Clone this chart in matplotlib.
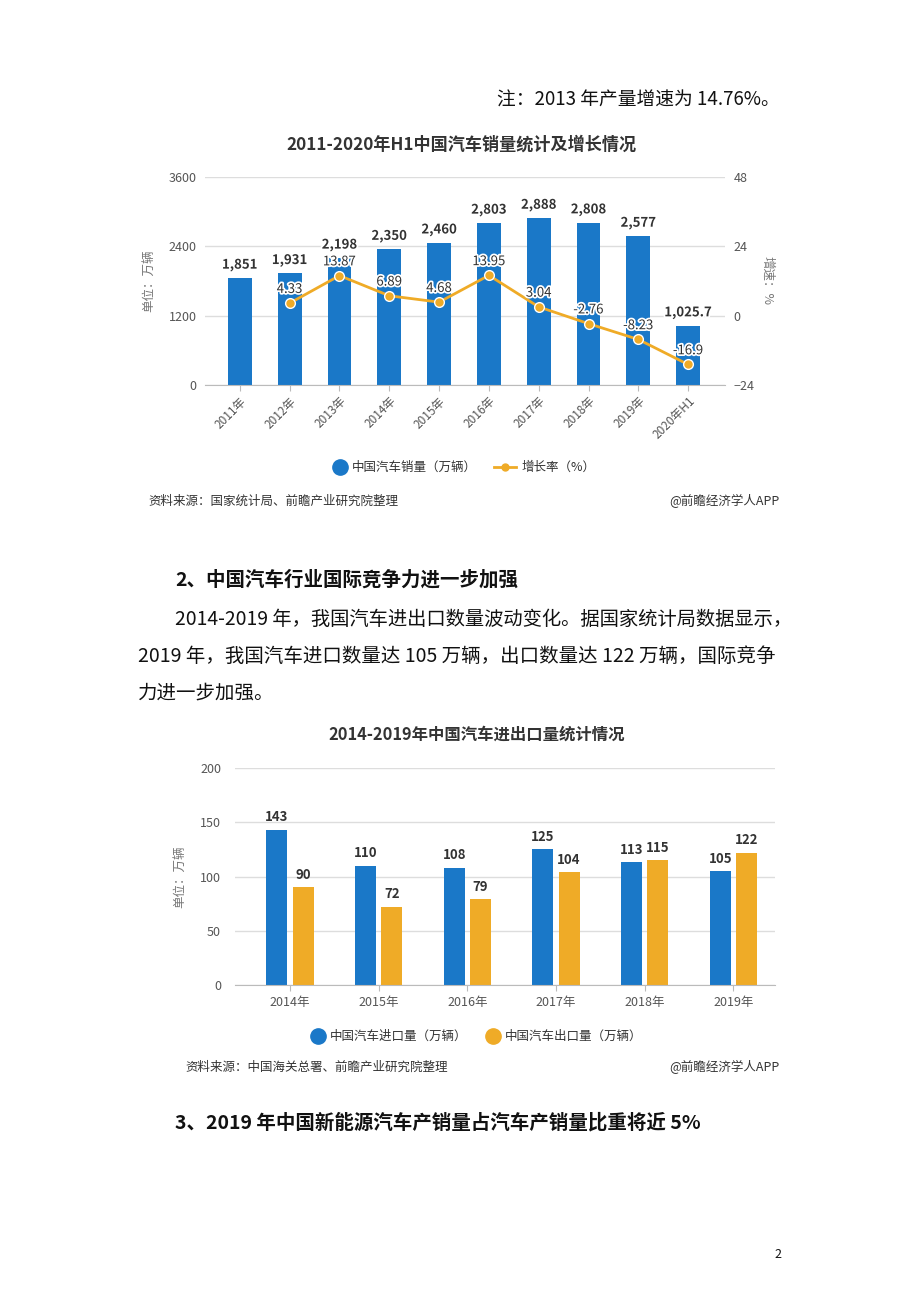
import matplotlib.pyplot as plt
import matplotlib.patheffects as pe
import numpy as np

plt.rcParams['font.family'] = ['Noto Sans CJK SC', 'DejaVu Sans']

# 图1数据
years1 = ["2011年", "2012年", "2013年", "2014年", "2015年", "2016年",
          "2017年", "2018年", "2019年", "2020年H1"]
sales = [1851, 1931, 2198, 2350, 2460, 2803, 2888, 2808, 2577, 1025.7]
sales_labels = ["1,851", "1,931", "2,198", "2,350", "2,460", "2,803",
                "2,888", "2,808", "2,577", "1,025.7"]
growth = [None, 4.33, 13.87, 6.89, 4.68, 13.95, 3.04, -2.76, -8.23, -16.9]

# 图2数据
years2 = ["2014年", "2015年", "2016年", "2017年", "2018年", "2019年"]
imports = [143, 110, 108, 125, 113, 105]
exports = [90, 72, 79, 104, 115, 122]

BLUE = "#1a78c8"
ORANGE = "#efab27"
TICK = "#555555"
GRID = "#dddddd"
LABEL = "#333333"

fig = plt.figure(figsize=(9.2, 13.02), dpi=100)


def fx(px):
    return px / 920


def fy(py):
    return 1 - py / 1302


def dot(x, y, color, size=11):
    fig.lines.append(plt.Line2D([fx(x)], [fy(y)], transform=fig.transFigure, marker="o",
                                markersize=size, color=color, linestyle="none", figure=fig))


# 正文
fig.text(fx(780), fy(100), "注：2013 年产量增速为 14.76%。", ha="right", va="center",
         fontsize=13.5, color="#111111")
fig.text(fx(175), fy(580), "2、中国汽车行业国际竞争力进一步加强", ha="left", va="center",
         fontsize=14, fontweight="bold", color="#111111")
fig.text(fx(175), fy(619), "2014-2019 年，我国汽车进出口数量波动变化。据国家统计局数据显示，",
         ha="left", va="center", fontsize=13.9, color="#111111")
fig.text(fx(138), fy(656), "2019 年，我国汽车进口数量达 105 万辆，出口数量达 122 万辆，国际竞争",
         ha="left", va="center", fontsize=14, color="#111111")
fig.text(fx(138), fy(693), "力进一步加强。", ha="left", va="center", fontsize=14, color="#111111")
fig.text(fx(175), fy(1123), "3、2019 年中国新能源汽车产销量占汽车产销量比重将近 5%", ha="left",
         va="center", fontsize=14, fontweight="bold", color="#111111")
fig.text(fx(778), fy(1255), "2", ha="center", va="center", fontsize=9, color="#111111")

# ---------- 图1 ----------
fig.text(fx(461), fy(145), "2011-2020年H1中国汽车销量统计及增长情况", ha="center", va="center",
         fontsize=12.3, fontweight="bold", color="#333333")

ax1 = fig.add_axes([fx(205), fy(385), fx(725) - fx(205), fy(177) - fy(385)])
x1 = np.arange(len(years1))
ax1.bar(x1, sales, width=0.48, color=BLUE, zorder=2)
ax1.set_ylim(0, 3600)
ax1.set_yticks([0, 1200, 2400, 3600])
ax1.set_xlim(-0.7, 9.74)
ax1.set_xticks(x1)
ax1.set_xticklabels(years1, rotation=45, ha="right", rotation_mode="anchor",
                    fontsize=8.5, color=TICK)
ax1.tick_params(axis="y", length=0, labelsize=9, colors=TICK, pad=6)
ax1.tick_params(axis="x", length=4, color="#bbbbbb", pad=3)
ax1.grid(axis="y", color=GRID, linewidth=1, zorder=0)
for s in ["top", "right", "left"]:
    ax1.spines[s].set_visible(False)
ax1.spines["bottom"].set_color("#bbbbbb")
ax1.set_ylabel("单位：万辆", fontsize=9, color="#777777", labelpad=10)
for xi, v, t in zip(x1, sales, sales_labels):
    ax1.text(xi, v + 110, t, ha="center", va="bottom", fontsize=9.5, fontweight="bold",
             color=LABEL, zorder=5,
             path_effects=[pe.withStroke(linewidth=2.5, foreground="white")])

ax1b = ax1.twinx()
gx = [xi for xi, g in zip(x1, growth) if g is not None]
gy = [g for g in growth if g is not None]
ax1b.plot(gx, gy, color=ORANGE, linewidth=2, marker="o", markersize=7,
          markerfacecolor=ORANGE, markeredgecolor="white", markeredgewidth=1, zorder=3)
ax1b.set_ylim(-24, 48)
ax1b.set_yticks([-24, 0, 24, 48])
ax1b.tick_params(axis="y", length=0, labelsize=9, colors=TICK, pad=6)
for s in ["top", "right", "left", "bottom"]:
    ax1b.spines[s].set_visible(False)
ax1b.set_ylabel("增速：%", fontsize=9, color="#777777", rotation=270, labelpad=14)
for xi, g in zip(gx, gy):
    ax1b.text(xi, g + 2.5, f"{g:g}", ha="center", va="bottom", fontsize=9.5,
              color=LABEL, zorder=6,
              path_effects=[pe.withStroke(linewidth=2.5, foreground="white")])

# 图1图例
dot(340, 467, BLUE)
fig.text(fx(352), fy(467), "中国汽车销量（万辆）", ha="left", va="center", fontsize=9,
         color="#333333")
fig.lines.append(plt.Line2D([fx(494), fx(516)], [fy(467), fy(467)], transform=fig.transFigure,
                            color=ORANGE, linewidth=2, figure=fig))
dot(505, 467, ORANGE, size=5)
fig.text(fx(522), fy(467), "增长率（%）", ha="left", va="center", fontsize=9, color="#333333")
fig.text(fx(148), fy(501), "资料来源：国家统计局、前瞻产业研究院整理", ha="left", va="center",
         fontsize=9, color="#333333")
fig.text(fx(780), fy(501), "@前瞻经济学人APP", ha="right", va="center", fontsize=9,
         color="#333333")

# ---------- 图2 ----------
fig.text(fx(477), fy(735), "2014-2019年中国汽车进出口量统计情况", ha="center", va="center",
         fontsize=11.8, fontweight="bold", color="#333333")

ax2 = fig.add_axes([fx(235), fy(985), fx(775) - fx(235), fy(768) - fy(985)])
x2 = np.arange(len(years2))
bw = 0.237
ax2.bar(x2 - 0.147, imports, width=bw, color=BLUE, zorder=2)
ax2.bar(x2 + 0.147, exports, width=bw, color=ORANGE, zorder=2)
ax2.set_ylim(0, 200)
ax2.set_yticks([0, 50, 100, 150, 200])
ax2.set_xlim(-0.62, 5.47)
ax2.set_xticks(x2)
ax2.set_xticklabels(years2, fontsize=9, color=TICK)
ax2.tick_params(axis="y", length=0, labelsize=9, colors=TICK, pad=10)
ax2.tick_params(axis="x", length=4, color="#bbbbbb", pad=4)
ax2.grid(axis="y", color=GRID, linewidth=1, zorder=0)
for s in ["top", "right", "left"]:
    ax2.spines[s].set_visible(False)
ax2.spines["bottom"].set_color("#bbbbbb")
ax2.set_ylabel("单位：万辆", fontsize=9, color="#777777", labelpad=10)
for xi, v in zip(x2, imports):
    ax2.text(xi - 0.147, v + 5, str(v), ha="center", va="bottom", fontsize=9.5,
             fontweight="bold", color=LABEL)
for xi, v in zip(x2, exports):
    ax2.text(xi + 0.147, v + 5, str(v), ha="center", va="bottom", fontsize=9.5,
             fontweight="bold", color=LABEL)

# 图2图例
dot(318, 1036, BLUE)
fig.text(fx(330), fy(1036), "中国汽车进口量（万辆）", ha="left", va="center", fontsize=9,
         color="#333333")
dot(493, 1036, ORANGE)
fig.text(fx(505), fy(1036), "中国汽车出口量（万辆）", ha="left", va="center", fontsize=9,
         color="#333333")
fig.text(fx(185), fy(1067), "资料来源：中国海关总署、前瞻产业研究院整理", ha="left", va="center",
         fontsize=9, color="#333333")
fig.text(fx(780), fy(1067), "@前瞻经济学人APP", ha="right", va="center", fontsize=9,
         color="#333333")

fig.savefig("out.png", dpi=100, facecolor="white")
